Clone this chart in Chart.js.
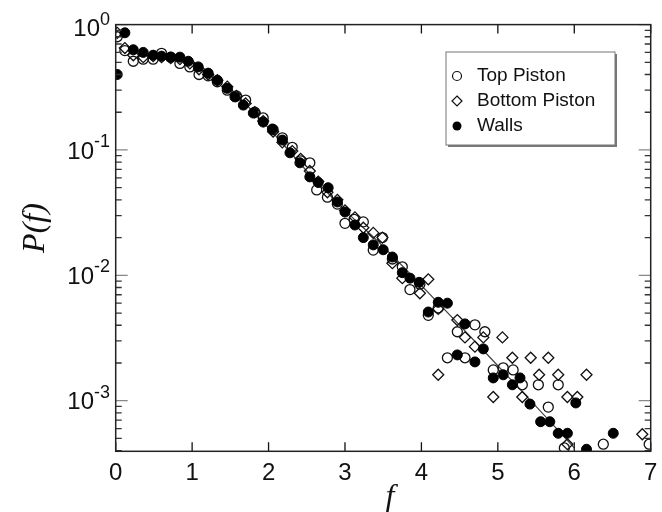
<!DOCTYPE html>
<html>
<head>
<meta charset="utf-8">
<script src="https://cdn.jsdelivr.net/npm/chart.js@4"></script>
<style>
  html, body { margin: 0; padding: 0; background: #fff; }
  #wrap { width: 662px; height: 512px; }
</style>
</head>
<body>
<div id="wrap"><canvas id="chart" width="662" height="512"></canvas></div>
<script>
//Walls (filled circles)
const fWalls = [0.02, 0.12, 0.23, 0.36, 0.49, 0.60, 0.72, 0.84, 0.95, 1.08, 1.21, 1.33, 1.46, 1.56, 1.67, 1.80, 1.93, 2.05, 2.18, 2.28, 2.41, 2.54, 2.65, 2.78, 2.90, 3.00, 3.13, 3.24, 3.37, 3.50, 3.62, 3.75, 3.85, 3.97, 4.09, 4.22, 4.34, 4.47, 4.57, 4.70, 4.81, 4.94, 5.07, 5.19, 5.29, 5.42, 5.56, 5.68, 5.79, 5.91, 6.02, 6.16, 6.51];
const pWalls = [0.40, 0.86, 0.63, 0.60, 0.57, 0.56, 0.55, 0.55, 0.51, 0.46, 0.41, 0.36, 0.31, 0.265, 0.228, 0.197, 0.167, 0.147, 0.12, 0.095, 0.079, 0.061, 0.055, 0.050, 0.0385, 0.032, 0.0252, 0.020, 0.0175, 0.016, 0.014, 0.0105, 0.0095, 0.0088, 0.0051, 0.0061, 0.0060, 0.00232, 0.0041, 0.00204, 0.00259, 0.00152, 0.00161, 0.00134, 0.00152, 0.00094, 0.00068, 0.00068, 0.00055, 0.00055, 0.00096, 0.00041, 0.00055];

//Top Piston (open circles)
const fTop = [0.02, 0.12, 0.23, 0.36, 0.49, 0.60, 0.72, 0.84, 0.97, 1.09, 1.21, 1.33, 1.46, 1.58, 1.70, 1.82, 1.93, 2.06, 2.18, 2.31, 2.42, 2.54, 2.63, 2.77, 2.90, 3.00, 3.12, 3.24, 3.37, 3.49, 3.62, 3.75, 3.85, 3.98, 4.09, 4.22, 4.34, 4.47, 4.57, 4.70, 4.83, 4.94, 5.07, 5.20, 5.32, 5.53, 5.66, 5.79, 5.87, 6.38, 6.98];
const pTop = [0.80, 0.62, 0.51, 0.53, 0.53, 0.59, 0.55, 0.49, 0.46, 0.40, 0.39, 0.35, 0.30, 0.27, 0.25, 0.20, 0.18, 0.145, 0.125, 0.105, 0.082, 0.079, 0.048, 0.042, 0.037, 0.026, 0.028, 0.0267, 0.0159, 0.020, 0.0135, 0.0117, 0.0077, 0.0085, 0.0048, 0.0055, 0.0022, 0.00355, 0.0022, 0.00403, 0.00355, 0.00176, 0.00183, 0.00176, 0.00134, 0.00134, 0.00089, 0.00134, 0.00042, 0.00045, 0.00045];

//Bottom Piston (open diamonds)
const fBottom = [0.02, 0.12, 0.23, 0.36, 0.49, 0.60, 0.72, 0.84, 0.97, 1.09, 1.21, 1.33, 1.46, 1.58, 1.70, 1.82, 1.93, 2.06, 2.18, 2.31, 2.42, 2.54, 2.65, 2.77, 2.90, 3.00, 3.13, 3.24, 3.37, 3.49, 3.62, 3.75, 3.98, 4.09, 4.22, 4.22, 4.47, 4.57, 4.70, 4.81, 4.94, 5.06, 5.19, 5.32, 5.43, 5.54, 5.66, 5.79, 5.91, 6.04, 6.16, 5.91, 6.89];
const pBottom = [0.86, 0.65, 0.57, 0.55, 0.56, 0.55, 0.54, 0.53, 0.49, 0.44, 0.40, 0.36, 0.32, 0.27, 0.235, 0.20, 0.17, 0.14, 0.115, 0.098, 0.085, 0.068, 0.056, 0.046, 0.040, 0.033, 0.029, 0.024, 0.0218, 0.020, 0.0125, 0.0095, 0.0072, 0.0093, 0.0054, 0.00161, 0.0044, 0.0032, 0.0027, 0.0032, 0.00107, 0.0032, 0.0022, 0.00107, 0.0022, 0.00161, 0.0022, 0.00161, 0.00107, 0.00107, 0.00161, 0.00045, 0.00054];

//fit line
const fLine = [1.5, 2.0, 2.5, 3.0, 3.5, 4.0, 4.5, 5.0, 5.5, 6.0];
const pLine = [0.31, 0.15, 0.068, 0.033, 0.017, 0.0083, 0.0040, 0.0019, 0.00090, 0.00042];

//axis ticks
const xTicks = [0, 1, 2, 3, 4, 5, 6, 7];
const yExps = [0, -1, -2, -3];
const legendLabels = ['Top Piston', 'Bottom Piston', 'Walls'];

const pairs = (xs, ys) => xs.map((x, i) => ({ x: x, y: ys[i] }));

const sans = '"Liberation Sans", Arial, sans-serif';
const serif = '"Liberation Serif", "Times New Roman", serif';

//frame, inward ticks, labels and legend
const axesPlugin = {
  id: 'axesPlugin',
  afterDraw(chart) {
    const ctx = chart.ctx;
    const a = chart.chartArea;
    const xs = chart.scales.x;
    const ys = chart.scales.y;
    ctx.save();

    //x ticks top and bottom
    ctx.strokeStyle = '#111';
    ctx.lineWidth = 1.3;
    xTicks.forEach(v => {
      const px = xs.getPixelForValue(v);
      ctx.beginPath();
      ctx.moveTo(px, a.bottom); ctx.lineTo(px, a.bottom - 9);
      ctx.moveTo(px, a.top); ctx.lineTo(px, a.top + 9);
      ctx.stroke();
    });

    //y ticks, majors and minors
    for (let e = -4; e <= 0; e++) {
      for (let k = 1; k <= 9; k++) {
        const v = k * Math.pow(10, e);
        if (v < ys.min || v > ys.max) continue;
        const py = ys.getPixelForValue(v);
        const len = k === 1 ? 12 : 6;
        ctx.strokeStyle = k === 1 ? '#888' : '#333';
        ctx.beginPath();
        ctx.moveTo(a.left, py); ctx.lineTo(a.left + len, py);
        ctx.moveTo(a.right, py); ctx.lineTo(a.right - len, py);
        ctx.stroke();
      }
    }

    //frame
    ctx.strokeStyle = '#222';
    ctx.lineWidth = 1.5;
    ctx.strokeRect(a.left, a.top, a.right - a.left, a.bottom - a.top);

    //x tick labels
    ctx.fillStyle = '#111';
    ctx.font = '24px ' + sans;
    ctx.textAlign = 'center';
    ctx.textBaseline = 'middle';
    xTicks.forEach(v => {
      ctx.fillText(String(v), xs.getPixelForValue(v), 473);
    });

    //y tick labels 10^n
    yExps.forEach(e => {
      let py = ys.getPixelForValue(Math.pow(10, e)) + 2;
      if (e === 0) py += 3;
      const sup = String(e);
      ctx.font = '18px ' + sans;
      const wSup = ctx.measureText(sup).width;
      ctx.textAlign = 'right';
      ctx.textBaseline = 'middle';
      ctx.fillText(sup, 110, py - 10);
      ctx.font = '24px ' + sans;
      ctx.fillText('10', 110 - wSup, py);
    });

    //axis titles
    ctx.font = 'italic 32px ' + serif;
    ctx.textAlign = 'center';
    ctx.fillText('f', 390, 498);
    ctx.save();
    ctx.translate(36, 228);
    ctx.rotate(-Math.PI / 2);
    ctx.fillText('P(f)', 0, 0);
    ctx.restore();

    //legend box
    const bx = 446, by = 52, bw = 169, bh = 93;
    ctx.fillStyle = '#fff';
    ctx.fillRect(bx, by, bw, bh);
    ctx.strokeStyle = '#777';
    ctx.lineWidth = 1;
    ctx.strokeRect(bx, by, bw, bh);
    ctx.lineWidth = 2;
    ctx.beginPath();
    ctx.moveTo(bx + bw + 1, by + 2); ctx.lineTo(bx + bw + 1, by + bh + 1); ctx.lineTo(bx + 2, by + bh + 1);
    ctx.stroke();

    const rows = [76, 101, 126];
    ctx.strokeStyle = '#111';
    ctx.lineWidth = 1.2;
    //open circle
    ctx.beginPath(); ctx.arc(457, rows[0], 4.5, 0, Math.PI * 2); ctx.stroke();
    //diamond
    ctx.beginPath();
    ctx.moveTo(457, rows[1] - 5); ctx.lineTo(462, rows[1]); ctx.lineTo(457, rows[1] + 5); ctx.lineTo(452, rows[1]);
    ctx.closePath(); ctx.stroke();
    //filled circle
    ctx.fillStyle = '#000';
    ctx.beginPath(); ctx.arc(457, rows[2], 4.5, 0, Math.PI * 2); ctx.fill();

    ctx.font = '19px ' + sans;
    ctx.textAlign = 'left';
    ctx.fillStyle = '#111';
    legendLabels.forEach((t, i) => ctx.fillText(t, 477, rows[i]));

    ctx.restore();
  }
};

new Chart(document.getElementById('chart'), {
  type: 'scatter',
  data: {
    datasets: [
      {
        label: legendLabels[2],
        data: pairs(fWalls, pWalls),
        pointStyle: 'circle',
        pointRadius: 5,
        backgroundColor: '#000',
        borderColor: '#000',
        borderWidth: 1,
        order: 0,
      },
      {
        label: legendLabels[0],
        data: pairs(fTop, pTop),
        pointStyle: 'circle',
        pointRadius: 5,
        backgroundColor: 'rgba(255,255,255,0)',
        borderColor: '#111',
        borderWidth: 1.3,
        order: 1,
      },
      {
        label: legendLabels[1],
        data: pairs(fBottom, pBottom),
        pointStyle: 'rectRot',
        pointRadius: 5.5,
        backgroundColor: 'rgba(255,255,255,0)',
        borderColor: '#111',
        borderWidth: 1.3,
        order: 2,
      },
      {
        label: 'fit',
        type: 'line',
        data: pairs(fLine, pLine),
        borderColor: '#444',
        borderWidth: 1.2,
        pointRadius: 0,
        tension: 0.3,
        order: 3,
      },
    ],
  },
  options: {
    responsive: false,
    animation: false,
    layout: { padding: { left: 115.7, right: 11.3, top: 24.6, bottom: 60.7 } },
    plugins: { legend: { display: false }, tooltip: { enabled: false } },
    scales: {
      x: { type: 'linear', min: 0, max: 7, display: false },
      y: { type: 'logarithmic', min: 3.95e-4, max: 1, display: false },
    },
  },
  plugins: [axesPlugin],
});
</script>
</body>
</html>
